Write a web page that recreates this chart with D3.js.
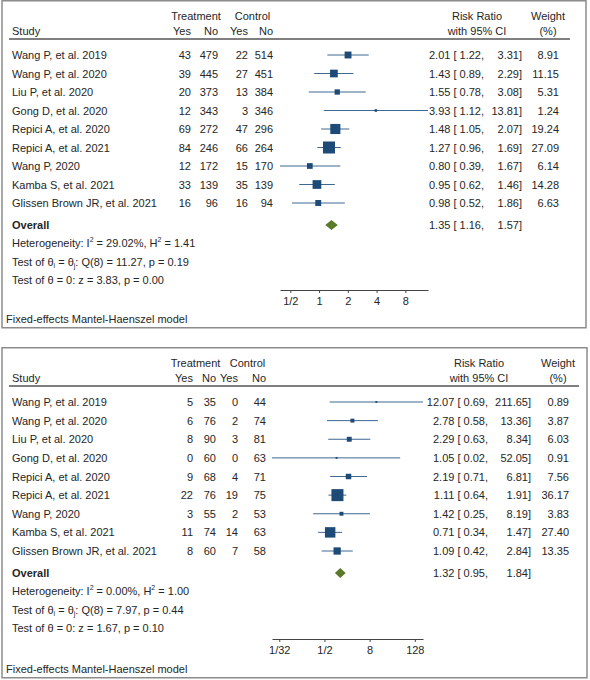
<!DOCTYPE html>
<html><head><meta charset="utf-8">
<script src="https://cdn.jsdelivr.net/npm/d3@7"></script>
<style>body{margin:0;background:#fff}svg text{font-family:"Liberation Sans",Arial,sans-serif;font-size:11px;fill:#262626}</style>
</head><body><svg id="c" width="590" height="680"></svg>
<script>
const studies = ["Wang P, et al. 2019","Wang P, et al. 2020","Liu P, et al. 2020","Gong D, et al. 2020","Repici A, et al. 2020","Repici A, et al. 2021","Wang P, 2020","Kamba S, et al. 2021","Glissen Brown JR, et al. 2021"];

// Panel 1
const p1TrtYes = [43,39,20,12,69,84,12,33,16];
const p1TrtNo  = [479,445,373,343,272,246,172,139,96];
const p1CtlYes = [22,27,13,3,47,66,15,35,16];
const p1CtlNo  = [514,451,384,346,296,264,170,139,94];
const p1RR = [2.01,1.43,1.55,3.93,1.48,1.27,0.80,0.95,0.98];
const p1Lo = [1.22,0.89,0.78,1.12,1.05,0.96,0.39,0.62,0.52];
const p1Hi = [3.31,2.29,3.08,13.81,2.07,1.69,1.67,1.46,1.86];
const p1Weight = [8.91,11.15,5.31,1.24,19.24,27.09,6.14,14.28,6.63];
const p1Overall = [1.35,1.16,1.57];
const p1Het = ["29.02%","1.41"];
const p1Q = ["Q(8) = 11.27, p = 0.19"];
const p1Z = ["z = 3.83, p = 0.00"];
const p1TickVals = [0.5,1,2,4,8];
const p1TickLabels = ["1/2","1","2","4","8"];

// Panel 2
const p2TrtYes = [5,6,8,0,9,22,3,11,8];
const p2TrtNo  = [35,76,90,60,68,76,55,74,60];
const p2CtlYes = [0,2,3,0,4,19,2,14,7];
const p2CtlNo  = [44,74,81,63,71,75,53,63,58];
const p2RR = [12.07,2.78,2.29,1.05,2.19,1.11,1.42,0.71,1.09];
const p2Lo = [0.69,0.58,0.63,0.02,0.71,0.64,0.25,0.34,0.42];
const p2Hi = [211.65,13.36,8.34,52.05,6.81,1.91,8.19,1.47,2.84];
const p2Weight = [0.89,3.87,6.03,0.91,7.56,36.17,3.83,27.40,13.35];
const p2Overall = [1.32,0.95,1.84];
const p2Het = ["0.00%","1.00"];
const p2Q = ["Q(8) = 7.97, p = 0.44"];
const p2Z = ["z = 1.67, p = 0.10"];
const p2TickVals = [1/32,1/2,8,128];
const p2TickLabels = ["1/32","1/2","8","128"];

const svg = d3.select("#c");

function panel(cfg, d) {
  const g = svg.append("g").attr("transform", `translate(0,${cfg.top})`);
  g.append("rect").attr("x",2).attr("y",0.75).attr("width",cfg.w).attr("height",cfg.h)
    .attr("fill","#fff").attr("stroke","#8c8c8c").attr("stroke-width",1.5);
  // headers
  g.append("text").attr("x",cfg.trtC).attr("y",20).attr("text-anchor","middle").text("Treatment");
  g.append("text").attr("x",cfg.ctlC).attr("y",20).attr("text-anchor","middle").text("Control");
  g.append("text").attr("x",12).attr("y",35).text("Study");
  const hdr = ["Yes","No","Yes","No"];
  cfg.cols.forEach((cx,i)=>g.append("text").attr("x",cx).attr("y",35).attr("text-anchor","end").text(hdr[i]));
  g.append("text").attr("x",cfg.rrC).attr("y",20).attr("text-anchor","middle").text("Risk Ratio");
  g.append("text").attr("x",cfg.rrC).attr("y",35).attr("text-anchor","middle").text("with 95% CI");
  g.append("text").attr("x",cfg.wC).attr("y",20).attr("text-anchor","middle").text("Weight");
  g.append("text").attr("x",cfg.wC).attr("y",35).attr("text-anchor","middle").text("(%)");
  g.append("line").attr("x1",9).attr("x2",cfg.ruleEnd).attr("y1",39).attr("y2",39)
    .attr("stroke","#555").attr("stroke-width",1.6);

  const y = d3.scalePoint().domain(d3.range(studies.length)).range([55, cfg.lastRow]);
  const x = d3.scaleLog().base(2).domain([d3.min(d.lo), d3.max(d.hi)]).range(cfg.xr);
  const wmax = d3.max(d.w);
  const cells = [d.ty,d.tn,d.cy,d.cn];
  studies.forEach((s,i)=>{
    const yy = y(i);
    g.append("text").attr("x",12).attr("y",yy+4).text(s);
    cells.forEach((arr,k)=>g.append("text").attr("x",cfg.cols[k]).attr("y",yy+4).attr("text-anchor","end").text(arr[i]));
    g.append("line").attr("x1",x(d.lo[i])).attr("x2",x(d.hi[i])).attr("y1",yy).attr("y2",yy)
      .attr("stroke","#3e6792").attr("stroke-width",1);
    const sz = 12*Math.sqrt(d.w[i]/wmax);
    g.append("rect").attr("x",x(d.rr[i])-sz/2).attr("y",yy-sz/2).attr("width",sz).attr("height",sz)
      .attr("fill","#1e4a78");
    g.append("text").attr("x",cfg.commaX).attr("y",yy+4).attr("text-anchor","end")
      .text(`${d.rr[i].toFixed(2)} [ ${d.lo[i].toFixed(2)},`);
    g.append("text").attr("x",cfg.brX).attr("y",yy+4).attr("text-anchor","end").text(`${d.hi[i].toFixed(2)}]`);
    g.append("text").attr("x",cfg.wR).attr("y",yy+4).attr("text-anchor","end").text(d.w[i].toFixed(2));
  });
  // overall
  const oy = cfg.oy;
  g.append("text").attr("x",12).attr("y",oy+4).attr("font-weight","bold").text("Overall");
  const [e,l,h] = d.ov;
  g.append("path").attr("d",`M${x(l)},${oy} L${x(e)},${oy-5} L${x(h)},${oy} L${x(e)},${oy+5} Z`).attr("fill","#5a7a2a");
  g.append("text").attr("x",cfg.commaX).attr("y",oy+4).attr("text-anchor","end")
    .text(`${e.toFixed(2)} [ ${l.toFixed(2)},`);
  g.append("text").attr("x",cfg.brX).attr("y",oy+4).attr("text-anchor","end").text(`${h.toFixed(2)}]`);
  // stats
  const t1 = g.append("text").attr("x",12).attr("y",cfg.oy+22);
  t1.append("tspan").text("Heterogeneity: I");
  t1.append("tspan").attr("dy",-5).attr("font-size",7).text("2");
  t1.append("tspan").attr("dy",5).text(` = ${d.het[0]}, H`);
  t1.append("tspan").attr("dy",-5).attr("font-size",7).text("2");
  t1.append("tspan").attr("dy",5).text(` = ${d.het[1]}`);
  const t2 = g.append("text").attr("x",12).attr("y",cfg.oy+41);
  t2.append("tspan").text("Test of θ");
  t2.append("tspan").attr("dy",2).attr("font-size",7).text("i");
  t2.append("tspan").attr("dy",-2).text(" = θ");
  t2.append("tspan").attr("dy",2).attr("font-size",7).text("j");
  t2.append("tspan").attr("dy",-2).text(": " + d.q[0]);
  g.append("text").attr("x",12).attr("y",cfg.oy+59).text("Test of θ = 0: " + d.z[0]);
  // axis
  const ax = g.append("g").attr("transform",`translate(0,${cfg.axY})`)
    .call(d3.axisBottom(x).tickValues(d.tv).tickFormat((v,i)=>d.tl[i]).tickSize(3).tickPadding(4).tickSizeOuter(0));
  ax.select(".domain").attr("stroke","#444");
  ax.selectAll(".tick line").attr("stroke","#444");
  ax.selectAll(".tick text").attr("fill","#262626").style("font-family","Liberation Sans, Arial, sans-serif").style("font-size","11px");
  g.append("text").attr("x",6).attr("y",cfg.footY).text("Fixed-effects Mantel-Haenszel model");
}

panel({top:0,w:584,h:327,trtC:196,ctlC:252.5,cols:[191,218,248,273],rrC:477,wC:548,ruleEnd:570,
  lastRow:203,xr:[280,428],commaX:484,brX:522,wR:559,oy:225,axY:290,footY:323},
  {ty:p1TrtYes,tn:p1TrtNo,cy:p1CtlYes,cn:p1CtlNo,rr:p1RR,lo:p1Lo,hi:p1Hi,w:p1Weight,ov:p1Overall,het:p1Het,q:p1Q,z:p1Z,tv:p1TickVals,tl:p1TickLabels});

panel({top:347,w:585,h:330,trtC:195.5,ctlC:247.5,cols:[193,216,238,266],rrC:479,wC:558,ruleEnd:579,
  lastRow:204,xr:[272,423],commaX:488,brX:531,wR:569,oy:226,axY:292,footY:326},
  {ty:p2TrtYes,tn:p2TrtNo,cy:p2CtlYes,cn:p2CtlNo,rr:p2RR,lo:p2Lo,hi:p2Hi,w:p2Weight,ov:p2Overall,het:p2Het,q:p2Q,z:p2Z,tv:p2TickVals,tl:p2TickLabels});
</script></body></html>
